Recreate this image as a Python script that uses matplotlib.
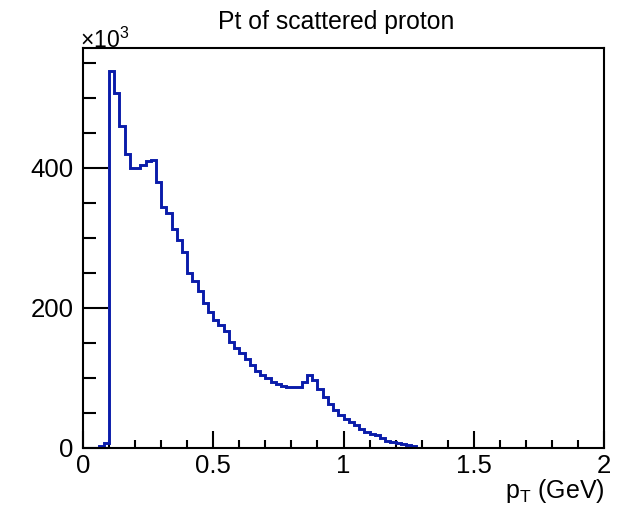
import numpy as np
import matplotlib
matplotlib.use("Agg")
import matplotlib.pyplot as plt
from matplotlib.ticker import MultipleLocator

plt.rcParams['font.family'] = ['Liberation Sans', 'DejaVu Sans']

# Histogram: bins of 0.02 GeV, first bin starts at 0.06 GeV (values in thousands)
bin_width = 0.02
first_edge = 0.06
counts_k = [2, 6,
            538, 506, 459, 419, 400, 400, 404, 409, 411,
            380, 344, 335, 312, 297, 279, 249, 238, 223, 207,
            194, 182, 175, 166, 151, 142, 135, 127, 118, 109,
            104, 99, 94, 91, 88, 87, 87, 87, 94, 104,
            97, 84, 72, 62, 54, 46, 41, 36, 32, 27,
            22, 20, 18, 13, 10, 8, 6, 5, 3, 2]

title = "Pt of scattered proton"
xlabel = "p$_{\\mathregular{T}}$ (GeV)"
x_major = [0, 0.5, 1, 1.5, 2]
x_major_labels = ["0", "0.5", "1", "1.5", "2"]
y_major = [0, 200, 400]
y_major_labels = ["0", "200", "400"]

W, H = 626, 509
fig = plt.figure(figsize=(W / 100, H / 100), dpi=100)
L, R, T, B = 83, 604, 48, 447.5
ax = fig.add_axes([L / W, 1 - B / H, (R - L) / W, (B - T) / H])

edges = first_edge + bin_width * np.arange(len(counts_k) + 1)
ax.stairs(counts_k, edges, baseline=0, color='#0a1caa', linewidth=2.1, zorder=2)

ax.set_xlim(0, 2)
ax.set_ylim(0, 571)

for s in ax.spines.values():
    s.set_linewidth(1.5)
    s.set_zorder(3)

ax.set_xticks(x_major)
ax.set_xticklabels(x_major_labels)
ax.set_yticks(y_major)
ax.set_yticklabels(y_major_labels)
ax.xaxis.set_minor_locator(MultipleLocator(0.1))
ax.yaxis.set_minor_locator(MultipleLocator(50))
ax.tick_params(axis='x', which='major', direction='in', length=12, width=1.5,
               labelsize=18.5, pad=5, top=False)
ax.tick_params(axis='x', which='minor', direction='in', length=5.5, width=1.5, top=False)
ax.tick_params(axis='y', which='major', direction='in', length=18, width=1.5,
               labelsize=18.5, pad=7, right=False)
ax.tick_params(axis='y', which='minor', direction='in', length=9, width=1.5, right=False)

fig.text(336.5 / W, 1 - 22 / H, title, ha='center', va='center', fontsize=17.8)
fig.text(80 / W, 1 - 40 / H, "\u00d710$^{\\mathregular{3}}$", ha='left', va='center', fontsize=16.5)
fig.text(605 / W, 1 - 491 / H, xlabel, ha='right', va='center', fontsize=18)

fig.savefig("out.png", dpi=100)
